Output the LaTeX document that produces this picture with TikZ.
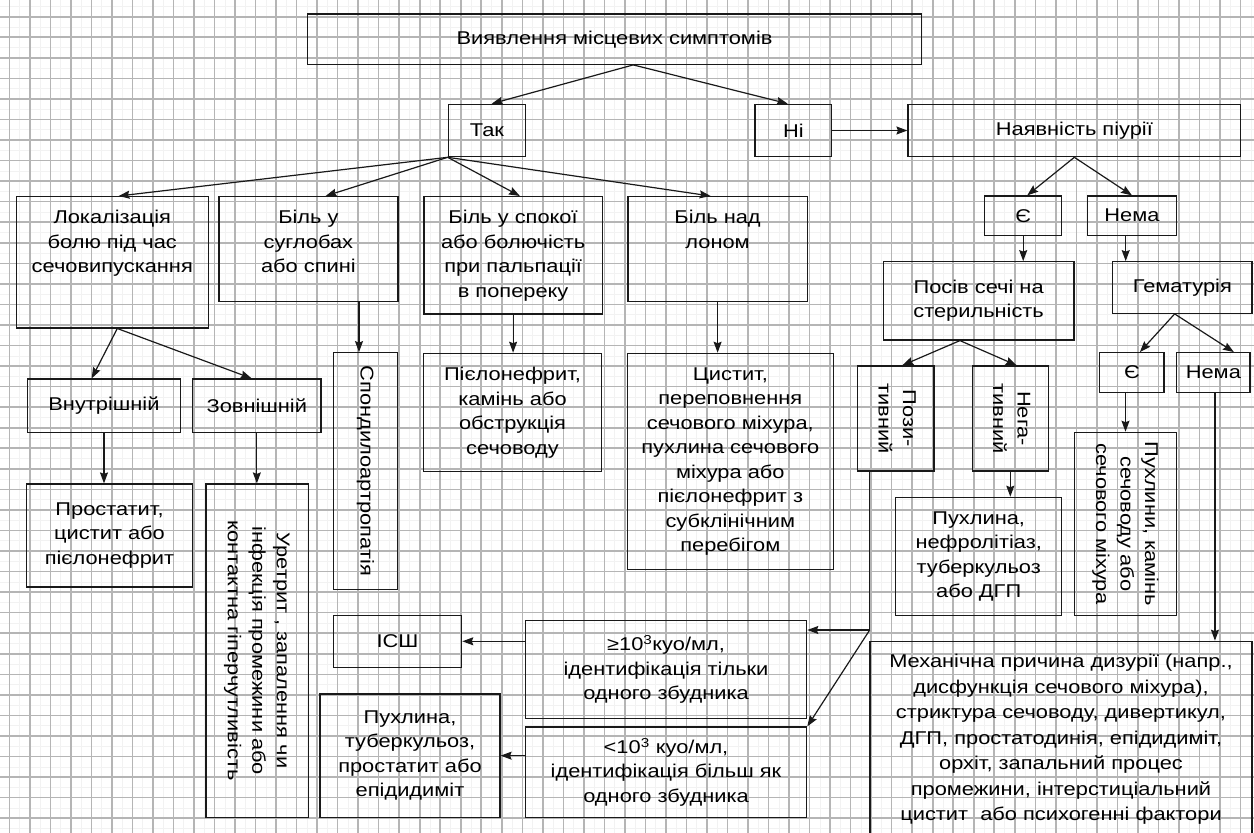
\documentclass[tikz,border=0pt]{standalone}
\usepackage{fontspec}
\usepackage{graphicx}
\setmainfont{Liberation Sans}[FakeStretch=1.18]
\usetikzlibrary{arrows.meta,calc}
\tikzset{
  gridmajor/.style={draw=gray!58, line width=1.6pt},
  gridminor/.style={draw=gray!10, line width=0.5pt},
  box/.style={draw=black!90, line width=1.2pt, inner sep=0pt, align=center, font=\fontsize{18.5}{24.5}\selectfont},
  arr/.style={draw=black!90, line width=1.2pt, -{Stealth[length=11pt,width=8pt,inset=1.5pt]}},
  ln/.style={draw=black!90, line width=1.2pt},
}
\newcommand{\rottext}[1]{\rotatebox{-90}{\begin{tabular}{@{}c@{}}#1\end{tabular}}}
\begin{document}
\begin{tikzpicture}[x=1pt,y=-1pt]
\useasboundingbox (0,0) rectangle (1254,833);
\clip (0,0) rectangle (1254,833);
% graph paper
\foreach \i in {0,...,122} {\draw[gridminor] ({-0.96+10.26*\i},0) -- ({-0.96+10.26*\i},833);}
\foreach \j in {0,...,82} {\draw[gridminor] (0,{6.42+10.275*\j}) -- (1254,{6.42+10.275*\j});}
\foreach \i in {0,...,61} {\draw[gridmajor] ({9.3+20.52*\i},0) -- ({9.3+20.52*\i},833);}
\foreach \j in {0,...,40} {\draw[gridmajor] (0,{16.7+20.55*\j}) -- (1254,{16.7+20.55*\j});}

% boxes
\node[box, minimum width=613.6pt, minimum height=50.3pt] (top) at (614.5,39.15) {Виявлення місцевих симптомів};
\node[box, minimum width=77.4pt, minimum height=52.4pt] (tak) at (487,130.5) {Так};
\node[box, minimum width=76.7pt, minimum height=52.4pt] (ni) at (793.35,130.5) {Ні};
\node[box, minimum width=332.7pt, minimum height=52.4pt] (pyuria) at (1074.35,130.5) {Наявність піурії};

\node[box, anchor=north west] (loc) at (15.7,196) {\parbox[c][131.3pt][t]{192pt}{\centering\vspace*{13.5pt}Локалізація\\болю під час\\сечовипускання}};
\node[box, anchor=north west] (joint) at (218.3,196) {\parbox[c][105pt][t]{179pt}{\centering\vspace*{13.5pt}Біль у\\суглобах\\або спині}};
\node[box, anchor=north west] (rest) at (423.3,196) {\parbox[c][117.3pt][t]{178.4pt}{\centering\vspace*{13.5pt}Біль у спокої\\або болючість\\при пальпації\\в попереку}};
\node[box, anchor=north west] (supra) at (627.3,196) {\parbox[c][105pt][t]{179.4pt}{\centering\vspace*{13.5pt}Біль над\\лоном}};

\node[box, minimum width=77pt, minimum height=39.3pt] (ey) at (1023.2,215.65) {Є};
\node[box, minimum width=89.4pt, minimum height=39.3pt] (nema) at (1132,215.65) {Нема};
\node[box, minimum width=190.7pt, minimum height=78.3pt] (posiv) at (978.65,300.85) {Посів сечі на\\стерильність};
\node[box, minimum width=139.3pt, minimum height=51.6pt] (hema) at (1182.35,287.5) {Гематурія};

\node[box, minimum width=153.4pt, minimum height=53.3pt] (inner) at (104,405.65) {Внутрішній};
\node[box, minimum width=128.3pt, minimum height=53.3pt] (outer) at (256.85,405.65) {Зовнішній};
\node[box, minimum width=64.2pt, minimum height=236.6pt] (spond) at (365.4,471) {\rottext{Спондилоартропатія}};
\node[box, minimum width=178.4pt, minimum height=118.4pt] (pyelo) at (512.5,412.5) {Пієлонефрит,\\камінь або\\обструкція\\сечоводу};
\node[box, minimum width=206pt, minimum height=216.4pt] (cyst) at (730.3,461.5) {Цистит,\\переповнення\\сечового міхура,\\пухлина сечового\\міхура або\\пієлонефрит з\\субклінічним\\перебігом};

\node[box, minimum width=76.7pt, minimum height=105pt] (pos) at (895.65,418.5) {\rottext{Пози-\\тивний}};
\node[box, minimum width=76pt, minimum height=105pt] (neg) at (1010.3,418.5) {\rottext{Нега-\\тивний}};
\node[box, minimum width=64.3pt, minimum height=39.6pt] (ey2) at (1131.85,372.5) {Є};
\node[box, minimum width=73.3pt, minimum height=39.6pt] (nema2) at (1213.35,372.5) {Нема};

\node[box, minimum width=165.6pt, minimum height=103pt] (prost) at (109.5,535.5) {Простатит,\\цистит або\\пієлонефрит};
\node[box, minimum width=102.3pt, minimum height=333.3pt] (ureth) at (257.15,650.65) {\rottext{Уретрит , запалення чи\\інфекція промежини або\\контактна гіперчутливість}};
\node[box, minimum width=101.6pt, minimum height=183pt] (tumors) at (1125.5,523.8) {\rottext{Пухлини, камінь\\сечоводу або\\сечового міхура}};
\node[box, minimum width=166pt, minimum height=118pt] (tumor) at (978.7,556.3) {Пухлина,\\нефролітіаз,\\туберкульоз\\або ДГП};

\node[box, minimum width=128.4pt, minimum height=52pt] (isc) at (397.5,641.3) {ІСШ};
\node[box, minimum width=281.4pt, minimum height=98pt] (ge) at (666,669.7) {≥10\textsuperscript{3}куо/мл,\\ідентифікація тільки\\одного збудника};
\node[box, minimum width=180pt, minimum height=123.3pt] (tumor2) at (410,755.65) {Пухлина,\\туберкульоз,\\простатит або\\епідидиміт};
\node[box, minimum width=281.4pt, minimum height=90.3pt] (lt) at (666,772.15) {<10\textsuperscript{3} куо/мл,\\ідентифікація більш як\\одного збудника};
\node[box, minimum width=382pt, minimum height=196.7pt, font=\fontsize{18.5}{25.5}\selectfont] (mech) at (1061,739.65) {Механічна причина дизурії (напр.,\\дисфункція сечового міхура),\\стриктура сечоводу, дивертикул,\\ДГП, простатодинія, епідидиміт,\\орхіт, запальний процес\\промежини, інтерстиціальний\\цистит\ \ або психогенні фактори};

% connectors
\coordinate (topS) at ($(top.south)+(18.8,0)$);
\draw[arr] (topS) -- ($(tak.north)+(4.7,0)$);
\draw[arr] (topS) -- ($(ni.north)+(-5.6,0)$);
\draw[arr] (ni.east) -- (pyuria.west);
\draw[arr] (tak.south west) -- ($(loc.north)+(6.3,0)$);
\draw[arr] (tak.south west) -- ($(joint.north)+(17.2,0)$);
\draw[arr] (tak.south west) -- ($(rest.north)+(6.8,0)$);
\draw[arr] (tak.south west) -- ($(supra.north)+(-7,0)$);
\draw[arr] (pyuria.south) -- ($(ey.north)+(4,0)$);
\draw[arr] (pyuria.south) -- (nema.north);
\draw[arr] (ey.south) -- (ey.south |- posiv.north);
\coordinate (nemaS) at ($(nema.south)+(-6.3,0)$);
\draw[arr] (nemaS) -- (nemaS |- hema.north);

\coordinate (locS) at ($(loc.south)+(5,0)$);
\draw[arr] (locS) -- ($(inner.north)+(-12.3,0)$);
\draw[arr] (locS) -- ($(outer.north)+(-5.2,0)$);
\coordinate (spondN) at ($(spond.north)+(-6.4,0)$);
\draw[arr] (spondN |- joint.south) -- (spondN);
\draw[arr] (inner.south) -- (inner.south |- prost.north);
\draw[arr] (outer.south) -- (outer.south |- ureth.north);
\draw[arr] (rest.south) -- (rest.south |- pyelo.north);
\draw[arr] (supra.south) -- (supra.south |- cyst.north);

\coordinate (posivS) at ($(posiv.south)+(-18.7,0)$);
\draw[arr] (posivS) -- ($(pos.north)+(6.6,0)$);
\draw[arr] (posivS) -- ($(neg.north)+(6.4,0)$);
\coordinate (hemaS) at ($(hema.south)+(-7.7,0)$);
\draw[arr] (hemaS) -- ($(ey2.north)+(8,0)$);
\draw[arr] (hemaS) -- ($(nema2.north)+(20.6,0)$);
\draw[arr] (neg.south) -- (neg.south |- tumor.north);
\draw[arr] (tumors.north |- ey2.south) -- (tumors.north);
\coordinate (nema2S) at ($(nema2.south)+(1.6,0)$);
\draw[arr] (nema2S) -- (nema2S |- mech.north);

\coordinate (J) at (869.7,630);
\draw[ln] (pos.south -| J) -- (J);
\draw[arr] (J) -- (ge.east |- J);
\draw[arr] (J) -- (lt.north east);
\draw[arr] (ge.west |- isc.east) -- (isc.east);
\draw[arr] (lt.west |- tumor2.east) -- (tumor2.east);
\end{tikzpicture}
\end{document}
